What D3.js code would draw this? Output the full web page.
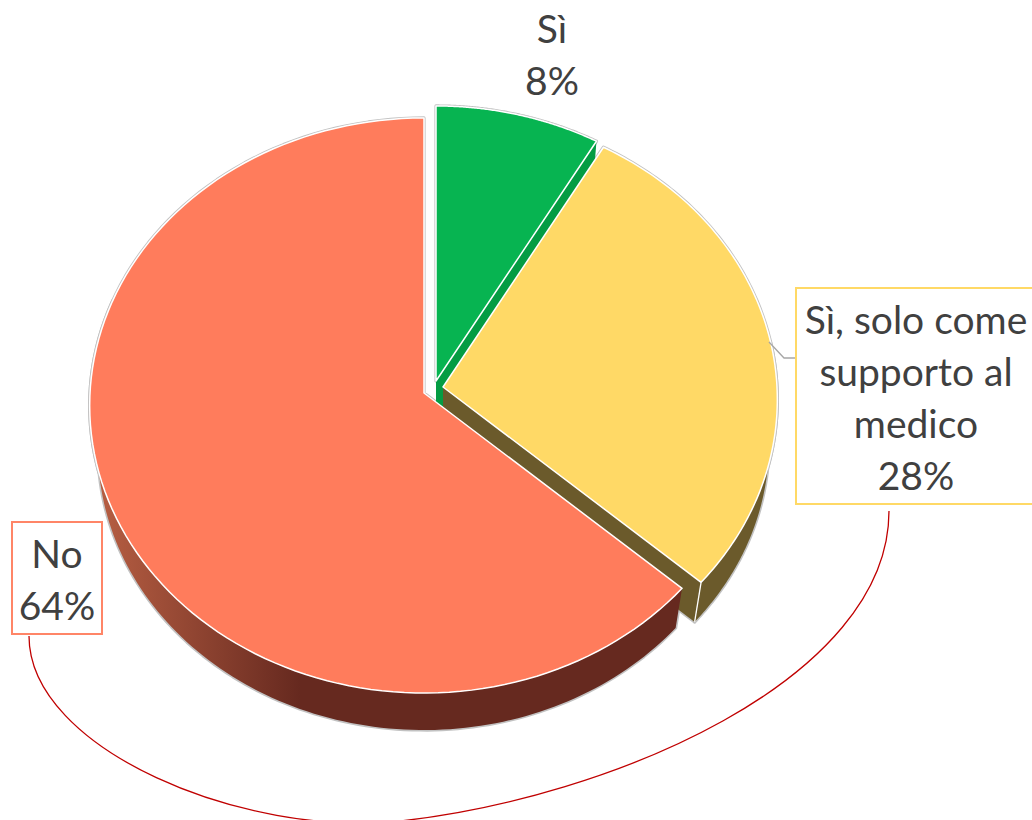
<!DOCTYPE html>
<html><head><meta charset="utf-8">
<script src="https://cdn.jsdelivr.net/npm/d3@7"></script>
<style>html,body{margin:0;padding:0;background:#fff;overflow:hidden}svg{display:block}text{font-family:Lato,"Open Sans",sans-serif;fill:#404040;font-size:39px;text-anchor:middle}</style>
</head><body><div id="c"></div>
<script>
// Data
const categories = ["Sì", "Sì, solo come supporto al medico", "No"];
const values = [8, 28, 64];
const labelLines = [["Sì"], ["Sì, solo come", "supporto al", "medico"], ["No"]];
// Style / layout
const topColors = ["#07b451", "#ffd966", "#ff7c5c"];
const sideColors = ["#049c43", "#6b5a2b", "url(#redWall)"];
const apexes = [[436, 381], [443, 387], [424, 393]];
const W = 1032, H = 820, RX = 334, RY = 287, K = 0.0435, WARP = 0.04, FLOOR_SCALE = 0.975, FLOOR_DROP = 44.5;

const svg = d3.select("#c").append("svg").attr("width", W).attr("height", H);
const grad = svg.append("defs").append("linearGradient").attr("id", "redWall")
  .attr("gradientUnits", "userSpaceOnUse").attr("x1", 95).attr("x2", 300).attr("y1", 0).attr("y2", 0);
grad.append("stop").attr("offset", 0).attr("stop-color", "#b85f43");
grad.append("stop").attr("offset", 1).attr("stop-color", "#66291f");

const arcs = d3.pie().sort(null).value(d => d)(values);
const sx = d3.scaleLinear().domain([-1, 1]).range([-RX, RX]);
const sy = d3.scaleLinear().domain([-1, 1]).range([-RY, RY]);

// perspective projection of a point on the unit disc, top or floor of the pie
function proj(a0, r, apex, floor) {
  const a = a0 + WARP * Math.sin(a0);
  const X = r * Math.sin(a), Y = -r * Math.cos(a), w = 1 - K * Y;
  const s = floor ? FLOOR_SCALE : 1, d = floor ? FLOOR_DROP : 0;
  return [apex[0] + s * sx(X) / w, apex[1] + d + s * sy(Y) / w];
}
const line = d3.line();
const rim = (a0, a1, apex, floor) => d3.range(0, 121).map(i => proj(a0 + (a1 - a0) * i / 120, 1, apex, floor));

const shapes = arcs.map((arc, i) => {
  const ap = apexes[i], a0 = arc.startAngle, a1 = arc.endAngle;
  const topRim = rim(a0, a1, ap, false);
  const apexTop = proj(0, 0, ap, false), apexBot = proj(0, 0, ap, true);
  const top = line([apexTop, ...topRim]) + "Z";
  // visible outer wall
  const wa0 = i === 2 ? a0 : Math.max(a0, Math.PI / 2 - 0.2);
  const wa1 = i === 2 ? 2 * Math.PI - 1.2 : a1;
  const wallTop = rim(wa0, wa1, ap, false), wallBot = rim(wa0, wa1, ap, true);
  const wall = line([...wallTop, ...wallBot.reverse()]) + "Z";
  // cut face along the end radius
  const endT = proj(a1, 1, ap, false), endB = proj(a1, 1, ap, true);
  const cut = line([apexTop, endT, endB, apexBot]) + "Z";
  return {i, top, wall, cut, endT, endB};
});

const gOutline = svg.append("g").attr("fill", "none").attr("stroke", "#c2c2c2").attr("stroke-width", 3.2).attr("stroke-linejoin", "round");
shapes.forEach(s => {
  gOutline.append("path").attr("d", s.top);
  if (s.i === 0) return;
  gOutline.append("path").attr("d", s.wall);
  if (s.i === 1) gOutline.append("path").attr("d", s.cut);
});

const gSides = svg.append("g");
[0, 1].forEach(i => {
  const s = shapes[i];
  if (i === 1) gSides.append("path").attr("d", s.wall).attr("fill", sideColors[i]);
  gSides.append("path").attr("d", s.cut).attr("fill", sideColors[i]);
});
gSides.append("path").attr("d", shapes[2].wall).attr("fill", sideColors[2]);
gSides.append("path").attr("d", line([shapes[1].endT, shapes[1].endB])).attr("stroke", "#fff").attr("stroke-width", 1.3);

const gTop = svg.append("g");
shapes.forEach(s => gTop.append("path").attr("d", s.top).attr("fill", topColors[s.i])
  .attr("stroke", "#fff").attr("stroke-width", 1.5).attr("stroke-linejoin", "round"));

// leader lines
svg.append("path").attr("d", line([[769, 342], [784, 358], [796, 358]])).attr("fill", "none").attr("stroke", "#a6a6a6").attr("stroke-width", 1.3);
const curve = d3.path();
curve.moveTo(29, 636);
curve.bezierCurveTo(29, 750, 245, 838, 400, 821);
curve.bezierCurveTo(610, 798, 889, 680, 889, 511);
svg.append("path").attr("d", curve.toString()).attr("fill", "none").attr("stroke", "#c00000").attr("stroke-width", 1.3);

// label boxes
const boxes = [null, {x: 796, y: 288, w: 240, h: 216, c: "#ffd966"}, {x: 12, y: 522, w: 90, h: 112, c: "#ff8567"}];
boxes.forEach(b => { if (b) svg.append("rect").attr("x", b.x).attr("y", b.y).attr("width", b.w).attr("height", b.h).attr("fill", "#fff").attr("stroke", b.c).attr("stroke-width", 2); });

const centers = [552, 916, 57], firstBase = [43, 334, 568], LH = 52;
categories.forEach((c, i) => {
  const lines = [...labelLines[i], values[i] + "%"];
  const t = svg.append("text");
  lines.forEach((l, j) => t.append("tspan").attr("x", centers[i]).attr("y", firstBase[i] + j * LH).text(l));
});
</script></body></html>
